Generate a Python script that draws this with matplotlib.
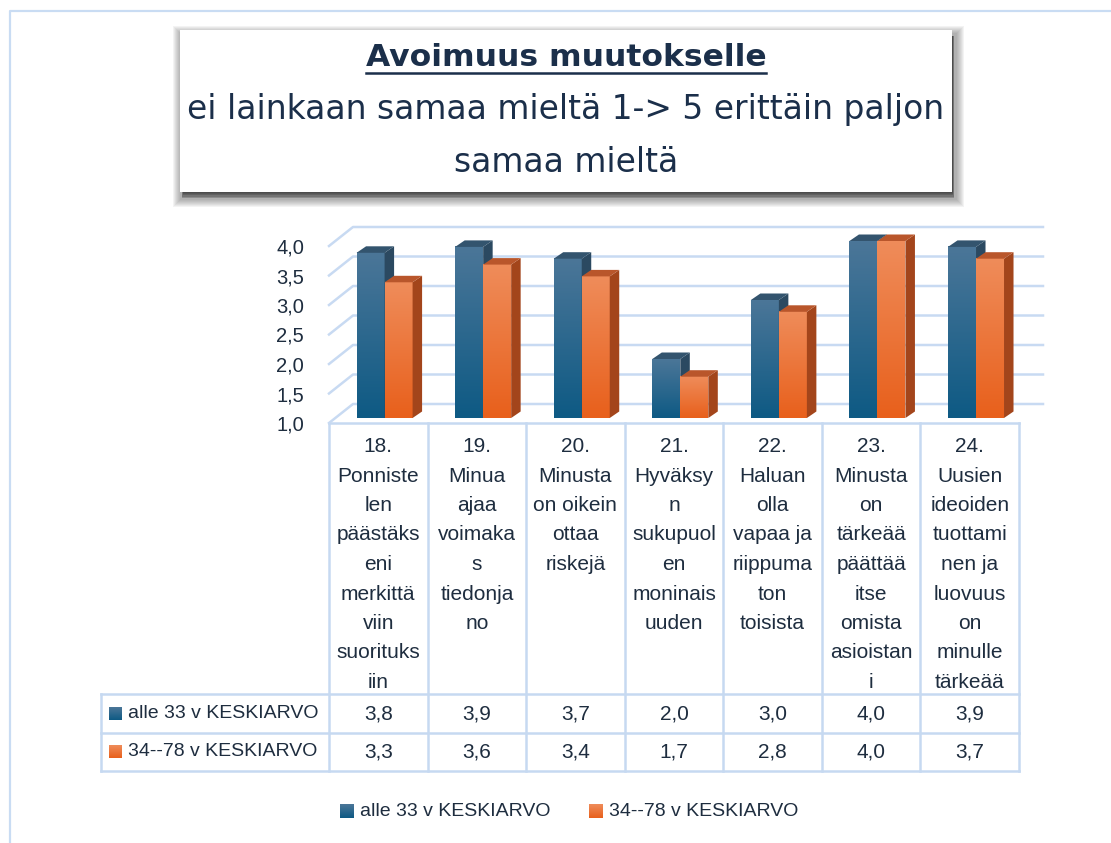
import numpy as np
import matplotlib
matplotlib.use("Agg")
import matplotlib.pyplot as plt
import matplotlib.transforms as mtransforms
from matplotlib.patches import Polygon, Rectangle
from matplotlib.colors import LinearSegmentedColormap

# ---- data ----
categories = [
    "18.\nPonniste\nlen\npäästäks\neni\nmerkittä\nviin\nsuorituks\niin",
    "19.\nMinua\najaa\nvoimaka\ns\ntiedonja\nno",
    "20.\nMinusta\non oikein\nottaa\nriskejä",
    "21.\nHyväksy\nn\nsukupuol\nen\nmoninais\nuuden",
    "22.\nHaluan\nolla\nvapaa ja\nriippuma\nton\ntoisista",
    "23.\nMinusta\non\ntärkeää\npäättää\nitse\nomista\nasioistan\ni",
    "24.\nUusien\nideoiden\ntuottami\nnen ja\nluovuus\non\nminulle\ntärkeää",
]
series_names = ["alle 33 v KESKIARVO", "34--78 v KESKIARVO"]
young = [3.8, 3.9, 3.7, 2.0, 3.0, 4.0, 3.9]
older = [3.3, 3.6, 3.4, 1.7, 2.8, 4.0, 3.7]
yticks = [1.0, 1.5, 2.0, 2.5, 3.0, 3.5, 4.0]
title = "Avoimuus muutokselle"
subtitle_lines = ["ei lainkaan samaa mieltä 1-> 5 erittäin paljon", "samaa mieltä"]

# colours: (front top, front bottom, side, top face)
styles = [
    ("#4b7698", "#0e5a84", "#2b4961", "#33546e"),
    ("#ef8c5a", "#e8601c", "#a3451b", "#b9562b"),
]
txt = "#1e2d3f"
grid_c = "#c8daf2"
narrow = ["Liberation Sans Narrow", "DejaVu Sans Condensed", "DejaVu Sans"]
plt.rcParams["font.family"] = ["Liberation Sans", "DejaVu Sans"]

W, H = 1111, 843
fig = plt.figure(figsize=(W / 100, H / 100), dpi=100)
bg = fig.add_axes([0, 0, 1, 1])
bg.set_xlim(0, W); bg.set_ylim(H, 0); bg.axis("off")
bg.set_autoscale_on(False)

# outer frame
bg.plot([10, 10, W], [H, 11, 11], color="#c9dcf3", lw=1.6)

# title box with soft shadow
for i in range(8, 0, -1):
    bg.add_patch(Rectangle((181 - i, 34 - i), 775 + 2 * i, 165 + 2 * i, color="#3c3c3c",
                           alpha=0.06, lw=0))
for i in range(5):
    bg.add_patch(Rectangle((182 + i * 0.3, 36), 772 - i * 0.6, 162 - 1.3 * i, color="#3a3a3a",
                           alpha=0.3, lw=0))
bg.add_patch(Rectangle((180, 30), 772, 162, color="white", lw=0))
t = bg.text(566, 57, title, ha="center", va="center", fontsize=24, fontweight="bold",
            family=narrow, color="#1b2f4a")
subs = []
for k, line in enumerate(subtitle_lines):
    subs.append(bg.text(566, 110 + 52 * k, line, ha="center", va="center", fontsize=27,
                        family=narrow, color="#1b2f4a"))

# ---- chart ----
n = len(categories)
x = np.arange(n)
ax = fig.add_axes([329 / W, (H - 423) / H, 690 / W, 3.4 * 59 / H])
ax.set_xlim(-0.5, n - 0.5); ax.set_ylim(1, 4.4)
ax.set_autoscale_on(False)
for s in ax.spines.values():
    s.set_visible(False)
ax.patch.set_visible(False)
ax.set_xticks([])
ax.set_yticks(yticks)
ax.set_yticklabels([f"{v:.1f}".replace(".", ",") for v in yticks])
ax.tick_params(axis="y", length=0, pad=18, labelsize=14.5, labelcolor=txt)

px_x = ax.get_position().width * W / n
px_y = ax.get_position().height * H / 3.4

# back wall grid
gx, gy = 24 / px_x, 19 / px_y
for v in yticks:
    ax.plot([-0.5, -0.5 + gx, n - 0.5 + gx], [v, v + gy, v + gy], color=grid_c, lw=1.8,
            clip_on=False, zorder=1)

tr_front = mtransforms.offset_copy(ax.transData, fig=fig, x=6.3, y=5, units="dots")
bw = 28 / px_x
dx, dy = 9.5 / px_x, 6.5 / px_y
grad = np.linspace(0, 1, 64).reshape(-1, 1)
for j, vals in enumerate([young, older]):
    top_c, bot_c, side_c, cap_c = styles[j]
    z = 2 + j
    offs = (j - 1) * bw + bw / 2
    ax.bar(x + offs, np.array(vals) - 1, width=bw, bottom=1, color=bot_c,
           transform=tr_front, zorder=z, lw=0)
    cmap = LinearSegmentedColormap.from_list(f"g{j}", [bot_c, top_c])
    for xi, v in zip(x, vals):
        xl, xr = xi + offs - bw / 2, xi + offs + bw / 2
        ax.imshow(grad, extent=(xl, xr, 1, v), origin="lower", cmap=cmap, aspect="auto",
                  interpolation="bilinear", transform=tr_front, zorder=z + 0.01)
        ax.add_patch(Polygon([(xr, 1), (xr + dx, 1 + dy), (xr + dx, v + dy), (xr, v)],
                             closed=True, color=side_c, lw=0, transform=tr_front, zorder=z + 0.02))
        ax.add_patch(Polygon([(xl, v), (xr, v), (xr + dx, v + dy), (xl + dx, v + dy)],
                             closed=True, color=cap_c, lw=0, transform=tr_front, zorder=z + 0.02))
ax.set_xlim(-0.5, n - 0.5); ax.set_ylim(1, 4.4)

# ---- data table ----
col0, colw = 329, 690 / n
tab_left, top, hdr_bot, r1, r2 = 101, 423, 694, 733, 771
lc = "#c6d9f1"
bg.plot([col0, col0 + n * colw], [top, top], color=lc, lw=1.8)
for yy in (hdr_bot, r1, r2):
    bg.plot([tab_left, col0 + n * colw], [yy, yy], color=lc, lw=1.8)
bg.plot([tab_left, tab_left], [hdr_bot, r2], color=lc, lw=1.8)
for k in range(n + 1):
    bg.plot([col0 + k * colw] * 2, [top, r2], color=lc, lw=1.8)

for i, cat in enumerate(categories):
    cx = col0 + (i + 0.5) * colw
    bg.text(cx, 437, cat, ha="center", va="top", fontsize=15, linespacing=1.70,
            multialignment="center", color=txt)
    bg.text(cx, (hdr_bot + r1) / 2, f"{young[i]:.1f}".replace(".", ","), ha="center", va="center",
            fontsize=15, color=txt)
    bg.text(cx, (r1 + r2) / 2, f"{older[i]:.1f}".replace(".", ","), ha="center", va="center",
            fontsize=15, color=txt)


def key(x0, yc, j, size=13):
    top_c, bot_c = styles[j][0], styles[j][1]
    cmap = LinearSegmentedColormap.from_list(f"k{j}", [bot_c, top_c])
    bg.imshow(grad, extent=(x0, x0 + size, yc + size / 2, yc - size / 2), origin="lower",
              cmap=cmap, aspect="auto", interpolation="bilinear", zorder=3)


for j, (yy, name) in enumerate(zip([(hdr_bot + r1) / 2, (r1 + r2) / 2], series_names)):
    key(109, yy, j)
    bg.text(128, yy, name, ha="left", va="center", fontsize=14, color=txt)

# bottom legend
for j, (x0, name) in enumerate(zip([340, 589], series_names)):
    key(x0, 811, j, size=14)
    bg.text(x0 + 20, 811, name, ha="left", va="center", fontsize=14, color=txt)

bg.set_xlim(0, W); bg.set_ylim(H, 0)

# fit title widths to the box
fig.canvas.draw()
r = fig.canvas.get_renderer()
t.set_fontsize(t.get_fontsize() * 400 / t.get_window_extent(r).width)
f = 755 / subs[0].get_window_extent(r).width
for s in subs:
    s.set_fontsize(s.get_fontsize() * f)
fig.canvas.draw()
bb = t.get_window_extent()
bg.plot([bb.x0, bb.x1], [73, 73], color="#1b2f4a", lw=1.8)

fig.savefig("out.png", dpi=100)
